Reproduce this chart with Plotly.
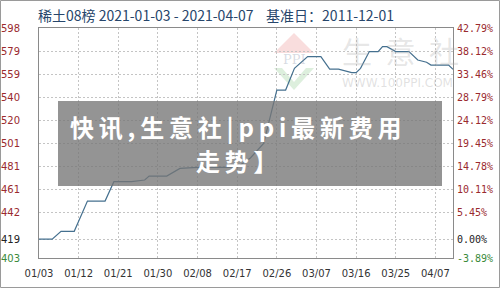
import plotly.graph_objects as go

# ---- data ----
dates = ["2021-01-03", "2021-01-06", "2021-01-08", "2021-01-11", "2021-01-14", "2021-01-18",
         "2021-01-20", "2021-01-24", "2021-01-27", "2021-01-28", "2021-02-01", "2021-02-04",
         "2021-02-08", "2021-02-17", "2021-02-20", "2021-02-23", "2021-02-26", "2021-02-28",
         "2021-03-02", "2021-03-05", "2021-03-08", "2021-03-10", "2021-03-12", "2021-03-15",
         "2021-03-16", "2021-03-17", "2021-03-19", "2021-03-21", "2021-03-22", "2021-03-23",
         "2021-03-25", "2021-03-28", "2021-03-30", "2021-04-01", "2021-04-02", "2021-04-06",
         "2021-04-07"]
values = [419, 419, 425.6, 425.6, 451.3, 451.3,
          467.7, 467.7, 469.1, 472.5, 472.5, 479.0,
          479.9, 479.9, 487.8, 500.2, 545.4, 545.4,
          563.8, 573.7, 573.7, 563.2, 563.2, 560.2,
          560.2, 563.8, 578.0, 578.0, 582.2, 582.2,
          578.0, 578.0, 570.9, 569.0, 566.6, 566.6,
          563.0]

x_tick_dates = ["2021-01-03", "2021-01-12", "2021-01-21", "2021-01-30", "2021-02-08", "2021-02-17",
                "2021-02-26", "2021-03-07", "2021-03-16", "2021-03-25", "2021-04-03"]
x_tick_labels = ["01/03", "01/12", "01/21", "01/30", "02/08", "02/17",
                 "02/26", "03/07", "03/16", "03/25", "04/07"]

y_tick_vals = [403, 419, 442, 461.5, 481, 500.5, 520, 539.5, 559, 578.5, 598]
y_tick_labels = ["403", "419", "442", "461", "481", "501", "520", "540", "559", "579", "598"]
pct_tick_labels = ["-3.89%", "0.00%", "5.45%", "10.11%", "14.78%", "19.45%", "24.12%",
                   "28.79%", "33.46%", "38.12%", "42.79%"]

title_text = "稀土08榜 2021-01-03 - 2021-04-07 &nbsp;&nbsp; 基准日：2011-12-01"
banner_line1 = "快讯,生意社|ppi最新费用"
banner_line2 = "走势】"

RED = "#9a2a2e"
GREEN = "#3a8a3a"
BLACK = "#222222"

def color_for(i):
    if i == 0:
        return GREEN
    if i == 1:
        return BLACK
    return RED

left_text = [f'<span style="color:{color_for(i)}">{t}</span>' for i, t in enumerate(y_tick_labels)]
right_text = [f'<span style="color:{color_for(i)}">{t}</span>' for i, t in enumerate(pct_tick_labels)]

# layout geometry in pixels
W, H = 500, 288
L, R, T, B = 39, 47, 28, 30
PW, PH = W - L - R, H - T - B

def px(x):
    return (x - L) / PW

def py(y):
    return (H - B - y) / PH

def spaced(s):
    return "\u2009".join(s)

fig = go.Figure()
fig.add_trace(go.Scatter(x=dates, y=values, mode="lines",
                         line=dict(color="#45708f", width=1.2),
                         showlegend=False, hoverinfo="x+y"))
fig.add_trace(go.Scatter(x=dates, y=values, mode="lines", yaxis="y2",
                         line=dict(color="rgba(0,0,0,0)", width=0),
                         showlegend=False, hoverinfo="skip"))

fig.update_layout(
    width=W, height=H,
    margin=dict(l=L, r=R, t=T, b=B, autoexpand=False),
    paper_bgcolor="white", plot_bgcolor="white",
    font=dict(family="DejaVu Sans", size=10, color=BLACK),
    xaxis=dict(type="date", range=["2021-01-03", "2021-04-07"],
               tickvals=x_tick_dates, ticktext=x_tick_labels,
               showgrid=True, gridcolor="#c4c4c4", griddash="2px,2px", gridwidth=1,
               showline=True, linecolor="#8a8a8a", linewidth=1, mirror=True,
               ticks="", ticklabelstandoff=6, zeroline=False, automargin=False,
               tickfont=dict(family="DejaVu Sans", size=10, color="#333333")),
    yaxis=dict(range=[403, 598], tickvals=y_tick_vals, ticktext=left_text,
               showgrid=True, gridcolor="#c4c4c4", griddash="2px,2px", gridwidth=1,
               showline=True, linecolor="#8a8a8a", linewidth=1, mirror=True,
               ticks="", ticklabelstandoff=16, zeroline=False, automargin=False,
               tickfont=dict(family="DejaVu Sans", size=10)),
    yaxis2=dict(range=[403, 598], tickvals=y_tick_vals, ticktext=right_text,
                overlaying="y", side="right", showgrid=False, zeroline=False,
                ticks="", ticklabelstandoff=3, automargin=False,
                tickfont=dict(family="DejaVu Sans Mono", size=10)),
)

# outer frame of the image
fig.add_shape(type="rect", xref="paper", yref="paper",
              x0=px(0.5), x1=px(W - 0.5), y0=py(H - 0.5), y1=py(0.5),
              line=dict(color="#9a9a9a", width=1), fillcolor="rgba(0,0,0,0)", layer="below")

# title
fig.add_annotation(xref="paper", yref="paper", x=px(37), y=py(14.5), xanchor="left", yanchor="middle",
                   text=title_text, showarrow=False, borderpad=0,
                   font=dict(family="Noto Sans CJK SC", size=14, color="#27466b"))

# faint watermark logo
fig.add_shape(type="path", xref="paper", yref="paper", layer="below",
              path=f"M {px(294)} {py(33)} L {px(314)} {py(53)} L {px(274)} {py(53)} Z",
              fillcolor="rgba(230,120,120,0.25)", line=dict(width=0))
fig.add_shape(type="path", xref="paper", yref="paper", layer="below",
              path=f"M {px(274)} {py(68)} L {px(294)} {py(90)} L {px(314)} {py(68)} L {px(306)} {py(68)} L {px(294)} {py(82)} L {px(282)} {py(68)} Z",
              fillcolor="rgba(120,190,120,0.25)", line=dict(width=0))
fig.add_annotation(xref="paper", yref="paper", x=px(294), y=py(60), xanchor="center", yanchor="middle",
                   text="PPI", showarrow=False,
                   font=dict(family="DejaVu Serif", size=13, color="rgba(140,150,170,0.35)"))
fig.add_annotation(xref="paper", yref="paper", x=px(400), y=py(50), xanchor="center", yanchor="middle",
                   text="生 &nbsp;意 &nbsp;社", showarrow=False,
                   font=dict(family="Noto Sans CJK SC", size=30, color="rgba(170,170,170,0.3)"))
fig.add_annotation(xref="paper", yref="paper", x=px(397), y=py(83), xanchor="center", yanchor="middle",
                   text="WWW.100PPI.COM", showarrow=False,
                   font=dict(family="DejaVu Sans", size=12, color="rgba(170,170,170,0.35)"))

# overlay banner
fig.add_shape(type="rect", xref="paper", yref="paper", layer="above",
              x0=px(58), x1=px(442), y0=py(186), y1=py(101),
              fillcolor="rgba(118,118,118,0.78)", line=dict(width=0))
fig.add_annotation(xref="paper", yref="paper", x=px(236), y=py(127), xanchor="center", yanchor="middle",
                   text=f"<b>{spaced(banner_line1)}</b>",
                   showarrow=False, font=dict(family="Noto Sans CJK SC", size=24, color="white"))
fig.add_annotation(xref="paper", yref="paper", x=px(237), y=py(160), xanchor="center", yanchor="middle",
                   text=f"<b>{spaced(banner_line2)}</b>",
                   showarrow=False, font=dict(family="Noto Sans CJK SC", size=24, color="white"))

fig.write_html("out.html")
